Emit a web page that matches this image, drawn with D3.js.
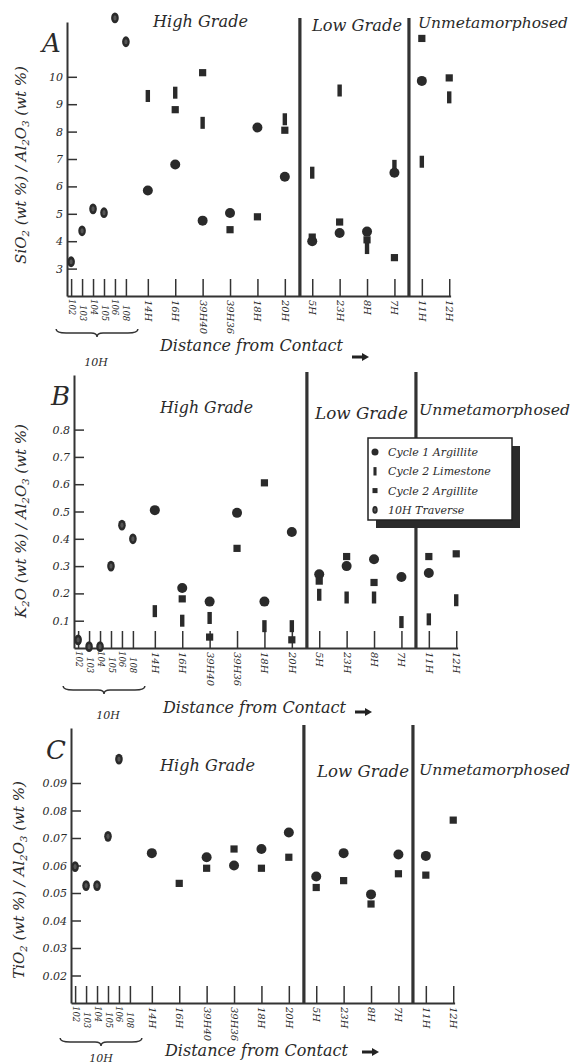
<!DOCTYPE html>
<html><head><meta charset="utf-8">
<script src="https://cdn.jsdelivr.net/npm/d3@7"></script>
<style>
html,body{margin:0;padding:0;background:#fff;}
svg{display:block;}
text{font-family:"DejaVu Serif","Liberation Serif",serif;font-style:italic;fill:#2a2a2a;}
</style></head>
<body>
<svg id="chart" width="576" height="1064"></svg>
<script>
// ---------- DATA ----------
const stations = ["102","103","104","105","106","108","14H","16H","39H40","39H36","18H","20H","5H","23H","8H","7H","11H","12H"];
const stationPos = [0,0.4,0.8,1.2,1.6,2.0,2.8,3.8,4.8,5.8,6.8,7.8,8.8,9.8,10.8,11.8,12.8,13.8];
const zoneBreaks = [8.35, 12.33];
const zoneNames = ["High Grade","Low Grade","Unmetamorphosed"];
const seriesNames = ["Cycle 1 Argillite","Cycle 2 Limestone","Cycle 2 Argillite","10H Traverse"];
const groupLabel = "10H";
const xTitle = "Distance from Contact";

const sio2Ticks = [3,4,5,6,7,8,9,10];
const k2oTicks = [0.1,0.2,0.3,0.4,0.5,0.6,0.7,0.8];
const tio2Ticks = [0.02,0.03,0.04,0.05,0.06,0.07,0.08,0.09];

const _ = null;
// Panel A: SiO2 / Al2O3
const sio2Cycle1Arg  = [_,_,_,_,_,_, 5.85,6.8,4.75,5.03,8.15,6.35, 4.0,4.3,4.35,6.5,9.85,_];
const sio2Cycle2Lime = [_,_,_,_,_,_, 9.3,9.42,8.32,_,_,8.45, 6.5,9.5,3.75,6.75,6.9,9.25];
const sio2Cycle2Arg  = [_,_,_,_,_,_, _,8.8,10.15,4.42,4.89,8.05, 4.15,4.7,4.05,3.4,11.4,9.96];
const sio2Traverse   = [3.25,4.38,5.18,5.04,12.15,11.28, _,_,_,_,_,_, _,_,_,_,_,_];
// Panel B: K2O / Al2O3
const k2oCycle1Arg  = [_,_,_,_,_,_, 0.505,0.22,0.17,0.495,0.17,0.425, 0.27,0.30,0.325,0.26,0.275,_];
const k2oCycle2Lime = [_,_,_,_,_,_, 0.135,0.10,0.11,_,0.08,0.08, 0.195,0.185,0.185,0.095,0.105,0.175];
const k2oCycle2Arg  = [_,_,_,_,_,_, _,0.18,0.04,0.365,0.605,0.03, 0.245,0.335,0.24,_,0.335,0.345];
const k2oTraverse   = [0.03,0.005,0.005,0.30,0.45,0.40, _,_,_,_,_,_, _,_,_,_,_,_];
// Panel C: TiO2 / Al2O3
const tio2Cycle1Arg  = [_,_,_,_,_,_, 0.0645,_,0.063,0.060,0.066,0.072, 0.056,0.0645,0.0495,0.064,0.0635,_];
const tio2Cycle2Lime = [_,_,_,_,_,_, _,_,_,_,_,_, _,_,_,_,_,_];
const tio2Cycle2Arg  = [_,_,_,_,_,_, _,0.0535,0.059,0.066,0.059,0.063, 0.052,0.0545,0.046,0.057,0.0565,0.0765];
const tio2Traverse   = [0.0596,0.0527,0.0527,0.0706,0.0987,_, _,_,_,_,_,_, _,_,_,_,_,_];

// ---------- LAYOUT ----------
const INK = "#2a2a2a";
const panels = [
  {letter:"A", letterXY:[42,52], xLeft:67, yTop:22, yBase:296, lineTop:18, domain:[2,12], ticks:sio2Ticks, fmt:d3.format("d"),
   ylab:[["SiO",0],["2",1],[" (wt %) / Al",0],["2",1],["O",0],["3",1],[" (wt %)",0]], ylabXY:[22,165],
   headY:[27,31,28], headX:[[153,95],[312,90],[418,150]],
   braceDy:37, tenHXY:[96,366], distXY:[160,351], arrowXY:[352,357],
   vals:[sio2Cycle1Arg,sio2Cycle2Lime,sio2Cycle2Arg,sio2Traverse]},
  {letter:"B", letterXY:[51,405], xLeft:74, yTop:375, yBase:648, lineTop:372, domain:[0,1.0], ticks:k2oTicks, fmt:d3.format(".1f"),
   ylab:[["K",0],["2",1],["O (wt %) / Al",0],["2",1],["O",0],["3",1],[" (wt %)",0]], ylabXY:[22,521],
   headY:[413,419,415], headX:[[160,93],[315,93],[419,151]],
   braceDy:42, tenHXY:[108,719], distXY:[163,713], arrowXY:[355,712],
   vals:[k2oCycle1Arg,k2oCycle2Lime,k2oCycle2Arg,k2oTraverse], legend:true},
  {letter:"C", letterXY:[46,759], xLeft:71, yTop:728, yBase:1003, lineTop:725, domain:[0.01,0.11], ticks:tio2Ticks, fmt:d3.format(".2f"),
   ylab:[["TiO",0],["2",1],[" (wt %) / Al",0],["2",1],["O",0],["3",1],[" (wt %)",0]], ylabXY:[20,880],
   headY:[771,777,775], headX:[[160,95],[317,92],[419,151]],
   braceDy:39, tenHXY:[101,1062], distXY:[165,1056], arrowXY:[362,1052],
   vals:[tio2Cycle1Arg,tio2Cycle2Lime,tio2Cycle2Arg,tio2Traverse]}
];

const svg = d3.select("#chart");
const shapes = ["circle","bar","square","ellipse"];

function drawMarker(sel, shape, scale) {
  const s = scale || 1;
  if (shape === "circle") sel.append("circle").attr("r", 5*s).attr("fill", INK);
  else if (shape === "bar") sel.append("rect").attr("x",-2.2*s).attr("y",-6*s).attr("width",4.4*s).attr("height",12*s).attr("fill", INK);
  else if (shape === "square") sel.append("rect").attr("x",-3.6*s).attr("y",-3.6*s).attr("width",7.2*s).attr("height",7.2*s).attr("fill", INK);
  else {
    sel.append("ellipse").attr("rx",3.8*s).attr("ry",5.4*s).attr("fill", INK);
    sel.append("ellipse").attr("rx",1.6*s).attr("ry",2.6*s).attr("fill", "#555");
  }
}

panels.forEach(p => {
  const g = svg.append("g");
  const x = d3.scaleLinear().domain([-0.15, 13.85]).range([p.xLeft, p.xLeft + 383.6]);
  const y = d3.scaleLinear().domain(p.domain).range([p.yBase, p.yTop]);

  // zone boundaries
  zoneBreaks.forEach(b => {
    g.append("line").attr("x1", x(b)).attr("x2", x(b)).attr("y1", p.lineTop).attr("y2", p.yBase)
      .attr("stroke", "#333").attr("stroke-width", 3.2);
  });

  // y axis
  const ya = g.append("g").attr("transform", `translate(${p.xLeft},0)`)
    .call(d3.axisLeft(y).tickValues(p.ticks).tickFormat(p.fmt).tickSize(-10).tickSizeOuter(0).tickPadding(4));
  ya.select(".domain").attr("stroke", "#333").attr("stroke-width", 2);
  ya.selectAll(".tick line").attr("stroke", "#333").attr("stroke-width", 1.5);
  ya.selectAll("text").style("font-size", "11px").style("font-family", "DejaVu Serif").style("font-style","italic").attr("fill", INK);

  // x axis
  const xa = g.append("g").attr("transform", `translate(0,${p.yBase})`)
    .call(d3.axisBottom(x).tickValues(stationPos).tickSize(-17).tickSizeOuter(0)
      .tickFormat(d => stations[stationPos.indexOf(d)]));
  xa.select(".domain").attr("stroke", "#333").attr("stroke-width", 2);
  xa.selectAll(".tick line").attr("stroke", "#333").attr("stroke-width", 1.5);
  xa.selectAll("text")
    .attr("transform", "rotate(90)")
    .attr("x", (d) => { const i = stationPos.indexOf(d); return i < 6 ? (i % 2 ? 9 : 3) : 4; })
    .attr("y", 0).attr("dy", "0.35em")
    .style("text-anchor", "start")
    .style("font-family", "DejaVu Serif").style("font-style","italic")
    .style("font-size", d => stationPos.indexOf(d) < 6 ? "8.5px" : "10px")
    .attr("fill", INK);

  // brace under 10H group
  const bx1 = x(stationPos[0]) - 15, bx2 = x(stationPos[5]) + 12, bm = (bx1 + bx2) / 2, by = p.yBase + p.braceDy;
  g.append("path")
    .attr("d", `M${bx1},${by-4} Q${bx1},${by} ${bx1+10},${by} L${bm-6},${by} Q${bm},${by} ${bm},${by+4} Q${bm},${by} ${bm+6},${by} L${bx2-10},${by} Q${bx2},${by} ${bx2},${by-4}`)
    .attr("fill", "none").attr("stroke", "#333").attr("stroke-width", 1.5);
  g.append("text").attr("x", p.tenHXY[0]).attr("y", p.tenHXY[1]).attr("text-anchor", "middle")
    .style("font-size", "11px").text(groupLabel);

  // x title + arrow
  g.append("text").attr("x", p.distXY[0]).attr("y", p.distXY[1])
    .attr("textLength", 183).attr("lengthAdjust", "spacingAndGlyphs")
    .style("font-size", "17px").text(xTitle);
  const [ax, ay] = p.arrowXY;
  g.append("path").attr("d", `M${ax},${ay-1.6} L${ax+10},${ay-1.6} L${ax+10},${ay-4} L${ax+17},${ay} L${ax+10},${ay+4} L${ax+10},${ay+1.6} L${ax},${ay+1.6} Z`)
    .attr("fill", "#222");

  // zone headers
  zoneNames.forEach((n, i) => {
    g.append("text").attr("x", p.headX[i][0]).attr("y", p.headY[i])
      .attr("textLength", p.headX[i][1]).attr("lengthAdjust", "spacingAndGlyphs")
      .style("font-size", i === 2 ? "15.5px" : "17px").text(n);
  });

  // panel letter
  g.append("text").attr("x", p.letterXY[0]).attr("y", p.letterXY[1])
    .style("font-size", "26px").text(p.letter);

  // y title
  const yt = g.append("text").attr("transform", `translate(${p.ylabXY[0]},${p.ylabXY[1]}) rotate(-90)`)
    .attr("text-anchor", "middle").attr("dominant-baseline", "middle").style("font-size", "15px");
  let shifted = false;
  p.ylab.forEach(([t, sub]) => {
    const ts = yt.append("tspan").text(t);
    if (sub && !shifted) { ts.attr("dy", 4).style("font-size", "10px"); shifted = true; }
    else if (!sub && shifted) { ts.attr("dy", -4); shifted = false; }
  });

  // markers: bars, circles, squares, 10H ellipses
  [1, 0, 2, 3].forEach(si => {
    const vals = p.vals[si];
    const pts = stations.map((s, i) => ({pos: stationPos[i], v: vals[i]})).filter(d => d.v != null);
    g.append("g").selectAll("g").data(pts).join("g")
      .attr("transform", d => `translate(${x(d.pos)},${y(d.v)})`)
      .each(function() { drawMarker(d3.select(this), shapes[si]); });
  });

  // legend
  if (p.legend) {
    const lx = 368, ly = 438, lw = 144, lh = 82;
    g.append("rect").attr("x", lx + 8).attr("y", ly + 8).attr("width", lw).attr("height", lh).attr("fill", "#2b2b2b");
    g.append("rect").attr("x", lx).attr("y", ly).attr("width", lw).attr("height", lh)
      .attr("fill", "#fff").attr("stroke", "#222").attr("stroke-width", 1.5);
    seriesNames.forEach((n, i) => {
      const ry = ly + 14 + i * 19.3;
      const mg = g.append("g").attr("transform", `translate(${lx + 7},${ry})`);
      drawMarker(mg, shapes[i], 0.7);
      g.append("text").attr("x", lx + 20).attr("y", ry + 4).style("font-size", "11px").text(n);
    });
  }
});
</script>
</body></html>
